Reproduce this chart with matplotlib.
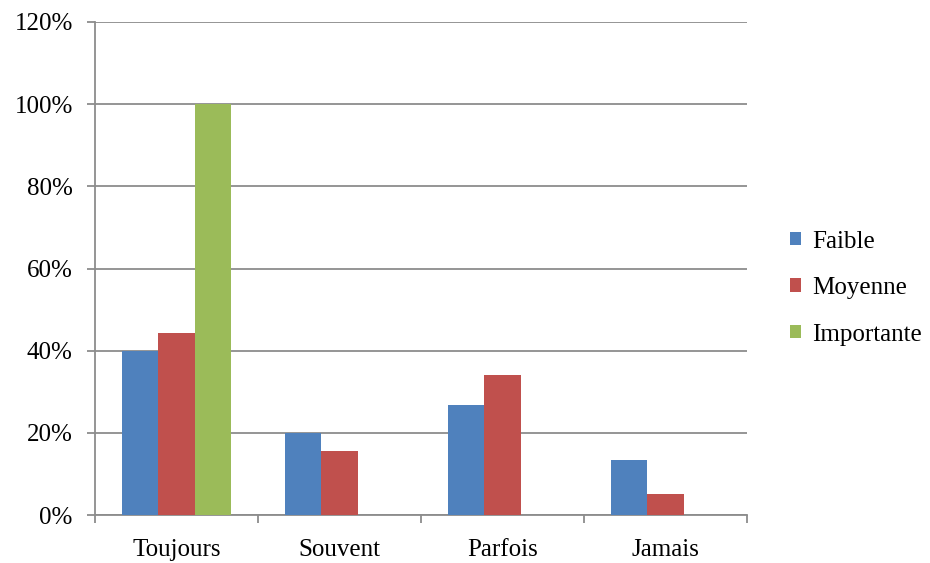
import matplotlib
matplotlib.use("Agg")
import matplotlib.pyplot as plt
from matplotlib.ticker import FixedLocator, PercentFormatter
import numpy as np

plt.rcParams['font.family'] = ['Liberation Serif', 'DejaVu Serif']

categories = ["Toujours", "Souvent", "Parfois", "Jamais"]
series_names = ["Faible", "Moyenne", "Importante"]
faible = [40.0, 20.0, 26.7, 13.3]
moyenne = [44.4, 15.5, 34.1, 5.2]
importante = [100.0, 0.0, 0.0, 0.0]
yticks = [0, 20, 40, 60, 80, 100, 120]

colors = ["#4F81BD", "#C0504D", "#9BBB59"]
grid_color = "#8C8C8C"
label_size = 18

fig = plt.figure(figsize=(9.30, 5.63), dpi=100)
ax = fig.add_axes([95 / 930, 48 / 563, 652 / 930, 493 / 563])

x = np.arange(len(categories))
width = 0.221
for i, (vals, name, c) in enumerate(zip([faible, moyenne, importante], series_names, colors)):
    ax.bar(x + (i - 1) * width, vals, width, color=c, label=name, zorder=3, linewidth=0)

ax.set_xlim(-0.5, len(categories) - 0.5)
ax.set_ylim(0, 120)
ax.set_yticks(yticks)
ax.yaxis.set_major_formatter(PercentFormatter(decimals=0))
ax.grid(axis='y', color=grid_color, linewidth=1.3, zorder=0)

ax.set_xticks(x)
ax.set_xticklabels(categories)
ax.xaxis.set_minor_locator(FixedLocator(np.arange(-0.5, len(categories), 1.0)))
ax.tick_params(axis='x', which='major', length=0, pad=17.5, labelsize=label_size)
ax.tick_params(axis='x', which='minor', length=6, width=1.3, color=grid_color, direction='out')
ax.tick_params(axis='y', length=6, width=1.3, color=grid_color, pad=10, labelsize=label_size)

for side in ['top', 'right']:
    ax.spines[side].set_visible(False)
for side in ['left', 'bottom']:
    ax.spines[side].set_color(grid_color)
    ax.spines[side].set_linewidth(1.3)

fig.legend(loc='center left', bbox_to_anchor=(780 / 930, 1 - 288 / 563),
           frameon=False, fontsize=label_size, handlelength=0.45, handleheight=0.45,
           handletextpad=0.45, labelspacing=0.98, borderaxespad=0)

fig.savefig("out.png", dpi=100)
